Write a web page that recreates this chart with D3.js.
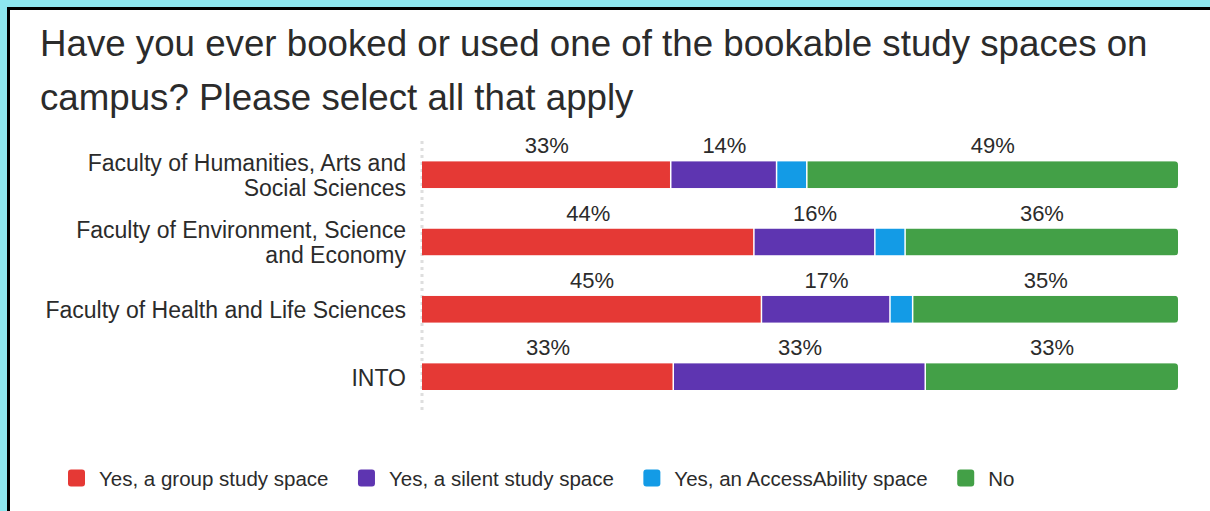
<!DOCTYPE html>
<html>
<head>
<meta charset="utf-8">
<script src="https://cdn.jsdelivr.net/npm/d3@7"></script>
<style>
  html, body { margin: 0; padding: 0; background: #8ee7f0; }
  svg { display: block; }
  text { font-family: "Liberation Sans", Arial, Helvetica, sans-serif; fill: #2b2b2b; }
</style>
</head>
<body>
<svg id="chart" width="1210" height="511"></svg>
<script>
// Survey question and answers
const titleLines = [
  "Have you ever booked or used one of the bookable study spaces on",
  "campus? Please select all that apply"
];
const categories = [
  "Faculty of Humanities, Arts and|Social Sciences",
  "Faculty of Environment, Science|and Economy",
  "Faculty of Health and Life Sciences",
  "INTO"
];
const seriesNames = [
  "Yes, a group study space",
  "Yes, a silent study space",
  "Yes, an AccessAbility space",
  "No"
];
const seriesColors = ["#e53935", "#5e35b1", "#139be6", "#43a047"];

// Percentage of respondents per faculty, one array per answer
const groupSpace   = [33, 44, 45, 33];
const silentSpace  = [14, 16, 17, 33];
const accessSpace  = [4, 4, 3, 0];
const noSpace      = [49, 36, 35, 33];
const seriesValues = [groupSpace, silentSpace, accessSpace, noSpace];

const labelMin = 8; // segments narrower than this percentage get no label

const svg = d3.select("#chart");
const W = 1210, H = 511;

// frame: cyan backdrop, black edge, white card
svg.append("rect").attr("width", W).attr("height", H).attr("fill", "#8ee7f0");
svg.append("rect").attr("x", 7).attr("y", 7).attr("width", W).attr("height", H).attr("fill", "#000");
svg.append("rect").attr("x", 10).attr("y", 10).attr("width", W).attr("height", H).attr("fill", "#fff");

// title
svg.append("g").selectAll("text").data(titleLines).join("text")
  .attr("x", 40)
  .attr("y", (d, i) => 56 + i * 54)
  .style("font-size", "36.7px")
  .text(d => d);

// rows for the stack
const rows = categories.map((c, i) => {
  const r = { category: c };
  seriesNames.forEach((s, j) => { r[s] = seriesValues[j][i]; });
  return r;
});
const stacked = d3.stack().keys(seriesNames).offset(d3.stackOffsetExpand)(rows);

const x = d3.scaleLinear().domain([0, 1]).range([422, 1178]);
const y = d3.scaleBand().domain(categories).range([141, 410.3]).paddingInner(0.6).paddingOuter(0.3);
const color = d3.scaleOrdinal().domain(seriesNames).range(seriesColors);

// dotted baseline
svg.append("line")
  .attr("x1", x(0)).attr("x2", x(0))
  .attr("y1", y.range()[0]).attr("y2", y.range()[1])
  .attr("stroke", "#dedede").attr("stroke-width", 3)
  .attr("stroke-dasharray", "3,4");

// clip each bar so only its right end is rounded
const defs = svg.append("defs");
categories.forEach((c, i) => {
  defs.append("clipPath").attr("id", "row" + i)
    .append("rect")
    .attr("x", x(0) - 10).attr("y", y(c))
    .attr("width", x(1) - x(0) + 10).attr("height", y.bandwidth())
    .attr("rx", 3.5);
});

const gap = 1.5;
const layers = svg.append("g").selectAll("g").data(stacked).join("g")
  .attr("fill", d => color(d.key));

layers.selectAll("rect")
  .data(d => d.map((p, i) => ({ p, i, key: d.key, last: d.key === seriesNames[seriesNames.length - 1] })))
  .join("rect")
  .filter(d => d.p[1] - d.p[0] > 0)
  .attr("clip-path", d => `url(#row${d.i})`)
  .attr("x", d => x(d.p[0]))
  .attr("y", d => y(d.p.data.category))
  .attr("width", d => Math.max(0, x(d.p[1]) - x(d.p[0]) - (d.last ? 0 : gap)))
  .attr("height", y.bandwidth());

// value labels above segments
const labels = [];
stacked.forEach((layer, j) => {
  layer.forEach((p, i) => {
    const v = seriesValues[j][i];
    if (v >= labelMin) labels.push({ v, cx: (x(p[0]) + x(p[1])) / 2, cy: y(categories[i]) });
  });
});
svg.append("g").selectAll("text").data(labels).join("text")
  .attr("x", d => d.cx)
  .attr("y", d => d.cy - 8)
  .attr("text-anchor", "middle")
  .style("font-size", "22px")
  .text(d => d.v + "%");

// category labels via a left axis, split onto lines at "|"
const axis = svg.append("g")
  .attr("transform", `translate(${x(0)},0)`)
  .call(d3.axisLeft(y).tickSize(0).tickPadding(16).tickFormat(() => ""));
axis.select(".domain").remove();
axis.selectAll(".tick").each(function (c) {
  const parts = c.split("|");
  const t = d3.select(this).select("text")
    .attr("x", -16).attr("dy", null)
    .attr("text-anchor", "end")
    .style("font-size", "23px")
    .style("font-family", "'Liberation Sans', Arial, sans-serif")
    .attr("fill", "#2b2b2b");
  parts.forEach((line, k) => {
    t.append("tspan")
      .attr("x", -16)
      .attr("y", 1 + (k - (parts.length - 1) / 2) * 25)
      .attr("dominant-baseline", "central")
      .text(line);
  });
});

// legend
const legend = svg.append("g");
let lx = 68;
seriesNames.forEach((s, j) => {
  legend.append("rect")
    .attr("x", lx).attr("y", 469.5)
    .attr("width", 17).attr("height", 17).attr("rx", 3)
    .attr("fill", seriesColors[j]);
  const t = legend.append("text")
    .attr("x", lx + 31).attr("y", 478)
    .attr("dominant-baseline", "central")
    .style("font-size", "20.5px")
    .text(s);
  lx += 31 + t.node().getComputedTextLength() + 29.5;
});
</script>
</body>
</html>
